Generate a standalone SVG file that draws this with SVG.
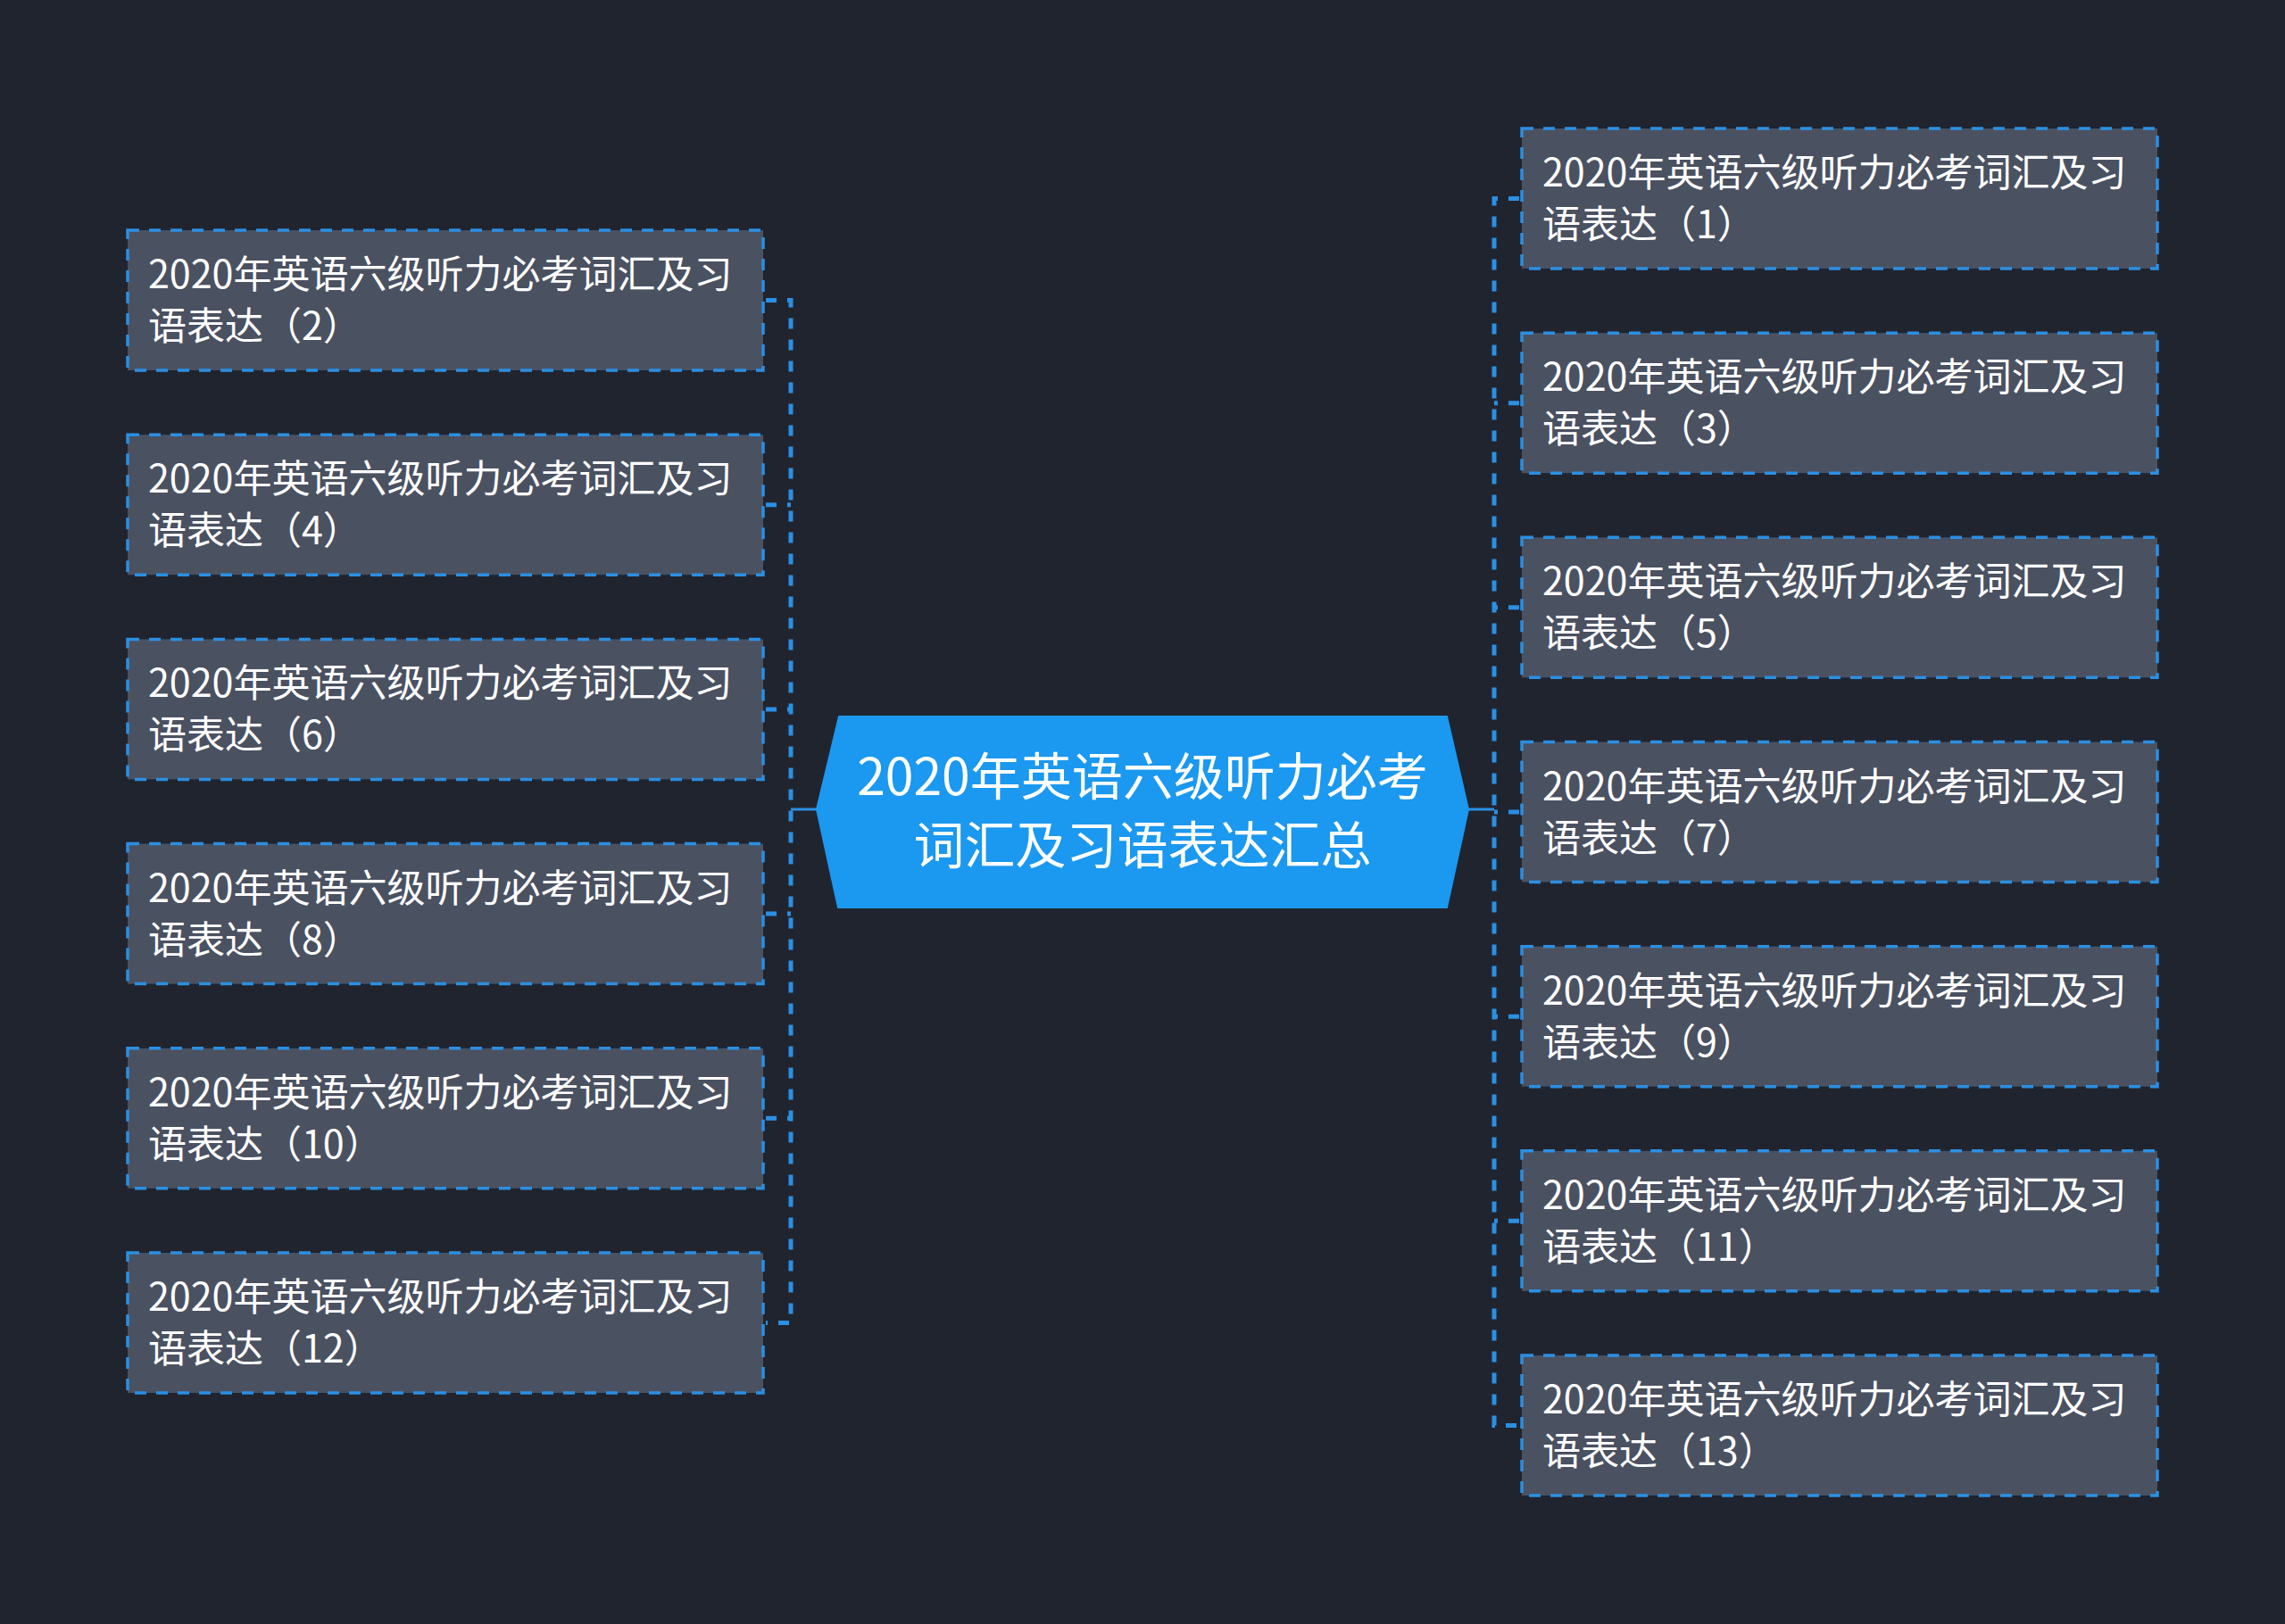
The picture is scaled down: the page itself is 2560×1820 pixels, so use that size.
<svg xmlns="http://www.w3.org/2000/svg" width="2560" height="1820" viewBox="0 0 2560 1820">
<style>
.bg{fill:#20242f}
.n rect{fill:#4a5161;stroke:#2b8fe2;stroke-width:3.5;stroke-dasharray:13 11}
.n text{font-family:"Noto Sans CJK SC","Noto Sans",sans-serif;font-size:43px;fill:#ffffff}
.c polygon{fill:#1b98ef;stroke:#1b98ef;stroke-width:2}
.c text{font-family:"Noto Sans CJK SC","Noto Sans",sans-serif;font-size:57px;fill:#ffffff;text-anchor:middle}
.l{fill:none;stroke:#2b8fe2;stroke-width:5;stroke-dasharray:12 12}
.s{fill:none;stroke:#2b8fe2;stroke-width:3}
</style>
<rect class="bg" x="0" y="0" width="2560" height="1820"/>
<g id="connectors">
<path class="s" d="M915 907 H886"/>
<path class="s" d="M1645 907 H1674"/>
<path class="l" d="M858 336.5 H886 V1482.5 H858"/>
<path class="l" d="M858 565.7 H886 M858 794.9 H886 M858 1024.1 H886 M858 1253.3 H886"/>
<path class="l" d="M1702 222.5 H1674 V1597.5 H1702"/>
<path class="l" d="M1702 451.7 H1674 M1702 680.8 H1674 M1702 910 H1674 M1702 1139.2 H1674 M1702 1368.3 H1674"/>
</g>
<g id="center" class="c">
<polygon points="940,803 1621,803 1645,907 1621,1017 939,1017 915,907"/>
<text x="1280" y="891">2020年英语六级听力必考</text>
<text x="1280" y="968">词汇及习语表达汇总</text>
</g>
<g id="n1" class="n"><rect x="1705" y="144" width="712" height="157"/><text x="1728" y="209">2020年英语六级听力必考词汇及习</text><text x="1728" y="267">语表达（1）</text></g>
<g id="n3" class="n"><rect x="1705" y="373.2" width="712" height="157"/><text x="1728" y="438.2">2020年英语六级听力必考词汇及习</text><text x="1728" y="496.2">语表达（3）</text></g>
<g id="n5" class="n"><rect x="1705" y="602.3" width="712" height="157"/><text x="1728" y="667.3">2020年英语六级听力必考词汇及习</text><text x="1728" y="725.3">语表达（5）</text></g>
<g id="n7" class="n"><rect x="1705" y="831.5" width="712" height="157"/><text x="1728" y="896.5">2020年英语六级听力必考词汇及习</text><text x="1728" y="954.5">语表达（7）</text></g>
<g id="n9" class="n"><rect x="1705" y="1060.7" width="712" height="157"/><text x="1728" y="1125.7">2020年英语六级听力必考词汇及习</text><text x="1728" y="1183.7">语表达（9）</text></g>
<g id="n11" class="n"><rect x="1705" y="1289.8" width="712" height="157"/><text x="1728" y="1354.8">2020年英语六级听力必考词汇及习</text><text x="1728" y="1412.8">语表达（11）</text></g>
<g id="n13" class="n"><rect x="1705" y="1519" width="712" height="157"/><text x="1728" y="1584">2020年英语六级听力必考词汇及习</text><text x="1728" y="1642">语表达（13）</text></g>
<g id="n2" class="n"><rect x="143" y="258" width="712" height="157"/><text x="166" y="323">2020年英语六级听力必考词汇及习</text><text x="166" y="381">语表达（2）</text></g>
<g id="n4" class="n"><rect x="143" y="487.2" width="712" height="157"/><text x="166" y="552.2">2020年英语六级听力必考词汇及习</text><text x="166" y="610.2">语表达（4）</text></g>
<g id="n6" class="n"><rect x="143" y="716.4" width="712" height="157"/><text x="166" y="781.4">2020年英语六级听力必考词汇及习</text><text x="166" y="839.4">语表达（6）</text></g>
<g id="n8" class="n"><rect x="143" y="945.6" width="712" height="157"/><text x="166" y="1010.6">2020年英语六级听力必考词汇及习</text><text x="166" y="1068.6">语表达（8）</text></g>
<g id="n10" class="n"><rect x="143" y="1174.8" width="712" height="157"/><text x="166" y="1239.8">2020年英语六级听力必考词汇及习</text><text x="166" y="1297.8">语表达（10）</text></g>
<g id="n12" class="n"><rect x="143" y="1404" width="712" height="157"/><text x="166" y="1469">2020年英语六级听力必考词汇及习</text><text x="166" y="1527">语表达（12）</text></g>
</svg>
